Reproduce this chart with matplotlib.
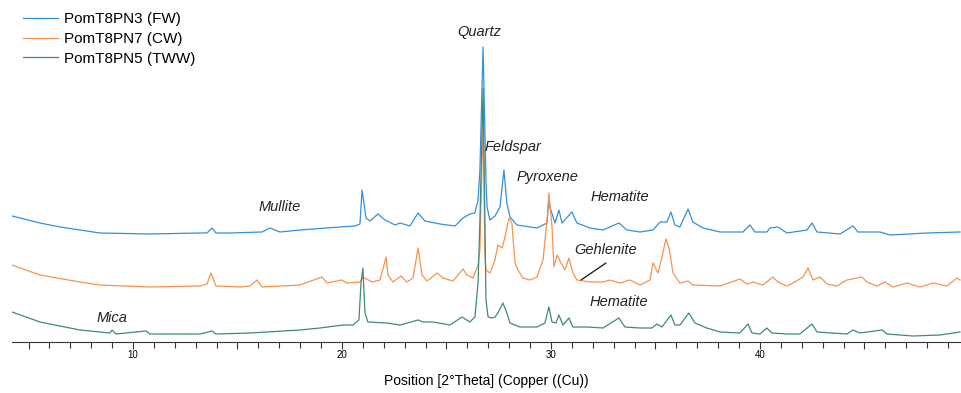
import matplotlib.pyplot as plt
from matplotlib.ticker import MultipleLocator, FuncFormatter

plt.rcParams['font.family'] = ['Liberation Sans', 'DejaVu Sans']

# 2theta positions and intensities (a.u., stacked)
fw_x = [4.21, 5.55, 6.51, 8.42, 10.81, 13.21, 13.54, 13.78, 13.97, 14.64, 16.17, 16.56, 17.03,
        17.99, 19.90, 20.62, 20.86, 20.96, 21.15, 21.34, 21.72, 22.06, 22.54, 22.78, 23.25,
        23.64, 23.97, 24.69, 25.41, 25.79, 26.12, 26.36, 26.51, 26.60, 26.75, 26.89, 26.94,
        27.08, 27.32, 27.56, 27.75, 27.89, 28.04, 28.37, 29.33, 29.81, 29.90, 29.95, 30.19,
        30.38, 30.53, 31.00, 31.24, 31.87, 32.49, 33.25, 33.64, 34.26, 34.88, 35.22, 35.55,
        35.74, 35.93, 36.17, 36.56, 36.79, 37.27, 38.09, 39.19, 39.52, 39.76, 40.33, 40.48,
        40.86, 41.29, 42.25, 42.49, 42.73, 43.83, 44.45, 44.69, 45.74, 46.22, 47.99, 49.57]
fw_y = [126, 119, 115, 109, 108, 109, 109, 114, 109, 109, 110, 114, 110,
        112, 115, 116, 118, 152, 124, 121, 128, 122, 117, 119, 116,
        129, 121, 118, 116, 124, 128, 129, 142, 172, 295, 162, 135,
        122, 126, 135, 172, 139, 125, 117, 114, 119, 142, 135, 119,
        132, 119, 130, 119, 114, 112, 119, 112, 110, 112, 120, 120,
        130, 117, 115, 133, 120, 114, 110, 110, 117, 110, 110, 114,
        115, 109, 112, 119, 110, 108, 116, 110, 110, 107, 109, 110]

cw_x = [4.21, 5.55, 7.46, 8.42, 10.81, 13.21, 13.54, 13.73, 13.97, 15.12, 15.60, 15.93, 16.17,
        17.99, 19.04, 19.28, 20.00, 20.24, 20.86, 21.00, 21.44, 21.82, 22.11, 22.20, 22.44,
        22.82, 23.11, 23.40, 23.64, 23.83, 24.07, 24.55, 24.83, 25.31, 25.79, 25.98, 26.27,
        26.51, 26.60, 26.75, 26.84, 26.89, 27.08, 27.32, 27.46, 27.66, 27.80, 27.99, 28.13,
        28.28, 28.42, 28.66, 29.00, 29.33, 29.62, 29.81, 29.90, 30.05, 30.14, 30.29, 30.48,
        30.67, 30.86, 31.05, 31.24, 31.87, 32.49, 32.82, 33.30, 33.78, 34.26, 34.74, 34.88,
        35.12, 35.31, 35.50, 35.65, 35.84, 36.17, 36.56, 36.79, 38.09, 39.04, 39.38, 39.67,
        40.14, 40.62, 40.86, 41.29, 41.58, 42.06, 42.30, 42.54, 42.87, 43.21, 43.68, 44.16,
        44.88, 45.12, 45.60, 45.98, 46.36, 47.03, 47.66, 48.28, 48.95, 49.43, 49.57]
cw_y = [77, 67, 60, 57, 55, 56, 58, 69, 56, 55, 56, 62, 55,
        57, 65, 59, 62, 59, 60, 65, 60, 62, 85, 67, 60,
        66, 60, 64, 94, 67, 61, 69, 64, 61, 73, 67, 64,
        77, 92, 222, 87, 72, 69, 82, 97, 94, 105, 124, 119,
        79, 72, 64, 62, 65, 82, 122, 149, 115, 75, 87, 79,
        72, 84, 69, 62, 60, 60, 62, 59, 62, 57, 62, 79,
        69, 85, 103, 94, 69, 59, 61, 57, 56, 63, 58, 60,
        57, 65, 60, 56, 59, 65, 74, 62, 65, 58, 56, 62,
        65, 60, 56, 60, 55, 59, 55, 59, 56, 64, 62]

tww_x = [4.21, 5.55, 7.46, 8.90, 9.00, 9.19, 10.62, 10.81, 13.21, 13.78, 13.97, 15.60, 17.99,
         18.95, 20.05, 20.53, 20.81, 20.91, 21.00, 21.10, 21.24, 22.15, 22.78, 23.64, 23.88,
         24.35, 25.17, 25.74, 26.12, 26.36, 26.51, 26.60, 26.75, 26.89, 26.99, 27.18, 27.32,
         27.46, 27.70, 27.89, 28.04, 28.52, 29.33, 29.71, 29.90, 30.05, 30.24, 30.38, 30.57,
         30.86, 31.05, 31.72, 32.49, 33.25, 33.54, 34.26, 34.83, 35.07, 35.31, 35.74, 35.93,
         36.17, 36.60, 36.89, 37.46, 38.09, 39.04, 39.43, 39.62, 40.00, 40.33, 40.57, 41.29,
         41.91, 42.49, 42.73, 44.16, 44.45, 44.78, 45.84, 46.08, 47.32, 48.61, 49.57]
tww_y = [30, 20, 12, 9, 12, 8, 11, 8, 8, 11, 8, 9, 12,
         14, 17, 17, 22, 59, 74, 29, 20, 19, 17, 22, 20,
         20, 17, 25, 20, 25, 59, 122, 254, 42, 25, 24, 25,
         29, 39, 29, 19, 15, 15, 19, 35, 20, 19, 27, 17,
         24, 15, 15, 14, 24, 15, 14, 14, 18, 15, 27, 17,
         17, 29, 19, 14, 10, 9, 18, 9, 8, 14, 9, 8,
         8, 18, 10, 8, 12, 9, 12, 8, 6, 7, 10]

names = ['PomT8PN3 (FW)', 'PomT8PN7 (CW)', 'PomT8PN5 (TWW)']
colors = ['#3590d8', '#f59450', '#3f8a7a']

fig = plt.figure(figsize=(9.61, 3.93), dpi=100)
ax = fig.add_axes([12/961, 51/393, 949/961, 342/393])

ax.plot(fw_x, fw_y, color=colors[0], lw=0.9, label=names[0])
ax.plot(cw_x, cw_y, color=colors[1], lw=0.9, label=names[1])
ax.plot(tww_x, tww_y, color=colors[2], lw=0.9, label=names[2])

ax.set_xlim(4.21, 49.62)
ax.set_ylim(0, 342)

for s in ['top', 'right', 'left']:
    ax.spines[s].set_visible(False)
ax.spines['bottom'].set_color('#333333')
ax.set_yticks([])
ax.xaxis.set_major_locator(MultipleLocator(5))
ax.xaxis.set_minor_locator(MultipleLocator(1))
ax.xaxis.set_major_formatter(FuncFormatter(lambda v, p: '%d' % v if v % 10 == 0 else ''))
ax.tick_params(axis='x', which='major', length=5, width=0.8, labelsize=7, color='#333333', pad=0.5)
ax.tick_params(axis='x', which='minor', length=4, width=0.8, color='#333333')
ax.set_xlabel('Position [2°Theta] (Copper ((Cu))', fontsize=10, labelpad=10)

kw = dict(fontsize=10.5, style='italic', color='#222222', ha='center', va='center')
ax.text(26.55, 310, 'Quartz', **kw)
ax.text(28.2, 195, 'Feldspar', **kw)
ax.text(29.85, 165, 'Pyroxene', **kw)
ax.text(33.3, 145, 'Hematite', **kw)
ax.text(17.0, 135, 'Mullite', **kw)
ax.text(8.98, 24, 'Mica', **kw)
ax.text(33.25, 40, 'Hematite', **kw)
ax.text(32.63, 92, 'Gehlenite', **kw)
ax.annotate('', xy=(31.44, 62), xytext=(32.63, 79),
            arrowprops=dict(arrowstyle='-', color='#111111', lw=0.9,
                            shrinkA=0, shrinkB=0))

ax.legend(loc='upper left', bbox_to_anchor=(0.0, 0.995), frameon=False, fontsize=11,
          handlelength=2.3, handletextpad=0.4, labelspacing=0.37, borderaxespad=0.3)

fig.savefig('out.png', dpi=100)
